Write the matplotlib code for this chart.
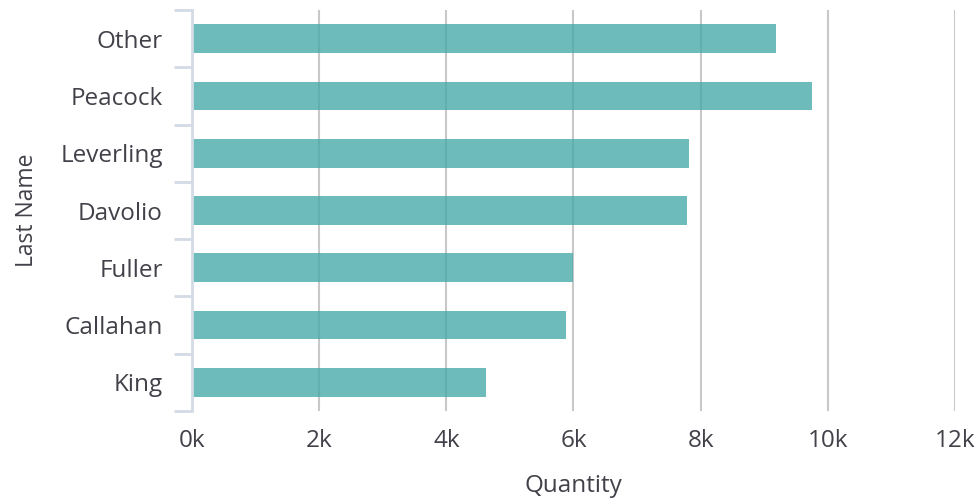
import matplotlib.pyplot as plt
import numpy as np

names = ['Other', 'Peacock', 'Leverling', 'Davolio', 'Fuller', 'Callahan', 'King']
quantity = [9180, 9750, 7820, 7790, 6000, 5880, 4620]
xticks = [0, 2000, 4000, 6000, 8000, 10000, 12000]
xlabels = ['0k', '2k', '4k', '6k', '8k', '10k', '12k']

plt.rcParams['font.family'] = ['Open Sans', 'DejaVu Sans']
txt = '#414149'

fig = plt.figure(figsize=(9.78, 5.0), dpi=100)
ax = fig.add_axes([192 / 978, 1 - 411 / 500, (955 - 192) / 978, (411 - 10) / 500])

y = np.arange(len(names))
ax.barh(y, quantity, height=0.5, color='#48aaa9', alpha=0.8, zorder=2)

ax.set_xlim(0, 12000)
ax.set_ylim(len(names) - 0.5, -0.5)
ax.set_xticks(xticks)
ax.set_xticklabels(xlabels)
ax.set_yticks(y)
ax.set_yticklabels(names)
ax.set_yticks(np.arange(-0.5, len(names)), minor=True)

ax.grid(axis='x', color='#c8c8c8', linewidth=1.5, zorder=1)
ax.set_axisbelow(True)
for s in ['top', 'right', 'bottom']:
    ax.spines[s].set_visible(False)
ax.spines['left'].set_color('#d3dbe5')
ax.spines['left'].set_linewidth(2)
ax.spines['left'].set_zorder(3)

ax.tick_params(axis='x', length=0, pad=13, labelsize=17.5, labelcolor=txt)
ax.tick_params(axis='y', which='major', length=0, pad=21, labelsize=17.5, labelcolor=txt)
ax.tick_params(axis='y', which='minor', length=13, width=2, color='#d3dbe5')

ax.set_xlabel('Quantity', fontsize=17.5, color=txt, labelpad=15)
ax.set_ylabel('Last Name', fontsize=16.5, color=txt, labelpad=15)

fig.savefig('out.png', dpi=100)
